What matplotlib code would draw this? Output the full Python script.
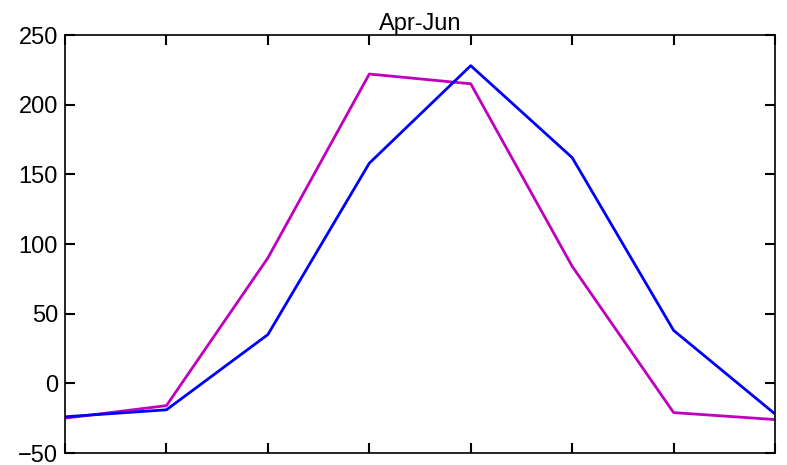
import numpy as np
import matplotlib.pyplot as plt

plt.rcParams['font.family'] = ['Liberation Sans', 'DejaVu Sans']

# Series
months = np.arange(8)
blue_vals = [-24, -19, 35, 158, 228, 162, 38, -22]
magenta_vals = [-25, -16, 90, 222, 215, 84, -21, -26]
title = 'Apr-Jun'

fig = plt.figure(figsize=(7.87, 4.65), dpi=100)
ax = fig.add_axes([0.0826, 0.0258, 0.9022, 0.8989])

ax.plot(months, magenta_vals, color=(0.75, 0, 0.75), linewidth=2)
ax.plot(months, blue_vals, color=(0, 0, 1), linewidth=2)

ax.set_xlim(0, 7)
ax.set_ylim(-50, 250)
ax.set_xticks(months)
ax.set_xticklabels([])
ax.set_yticks([-50, 0, 50, 100, 150, 200, 250])
ax.tick_params(direction='in', length=7, width=1.5, top=True, right=True,
               labelsize=17, pad=5)
for s in ax.spines.values():
    s.set_linewidth(1.2)
ax.set_title(title, fontsize=17, pad=3)

fig.savefig('out.png', dpi=100)
